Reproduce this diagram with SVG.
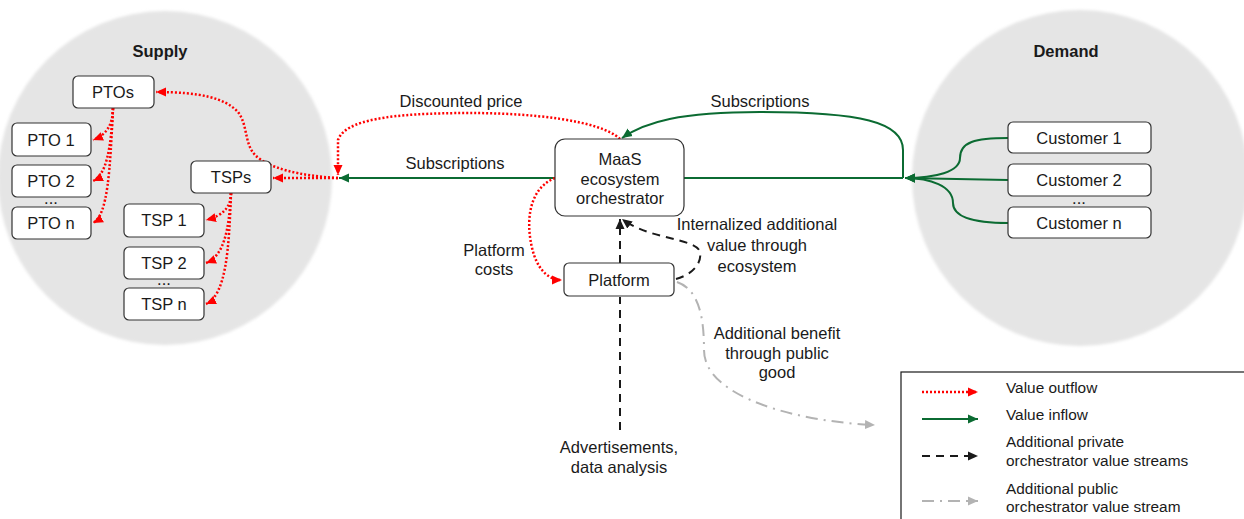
<svg xmlns="http://www.w3.org/2000/svg" width="1244" height="519" viewBox="0 0 1244 519">
<style>
text{font-family:"Liberation Sans",Arial,sans-serif;font-size:16.5px;fill:#1a1a1a;text-anchor:middle}
.t{font-weight:bold}
.lg{font-size:15.4px;text-anchor:start}
.box{fill:#fff;stroke:#333;stroke-width:1.2}
.red{fill:none;stroke:#ff0000;stroke-width:2.5;stroke-dasharray:2 2}
.grn{fill:none;stroke:#0b6b32;stroke-width:2}
.blk{fill:none;stroke:#1a1a1a;stroke-width:2;stroke-dasharray:8 6}
.gry{fill:none;stroke:#b3b3b3;stroke-width:2;stroke-dasharray:12 6 2 6}
.area{fill:#e5e5e5;filter:url(#soft)}
</style>
<defs>
<filter id="soft" x="-10%" y="-10%" width="120%" height="120%"><feGaussianBlur stdDeviation="1.5"/></filter>
<marker id="ar" markerUnits="userSpaceOnUse" markerWidth="12" markerHeight="12" viewBox="0 0 12 12" refX="10" refY="6" orient="auto"><path d="M0,1.5 L10,6 L0,10.5 Z" fill="#ff0000"/></marker>
<marker id="ag" markerUnits="userSpaceOnUse" markerWidth="12" markerHeight="12" viewBox="0 0 12 12" refX="10" refY="6" orient="auto"><path d="M0,1.5 L10,6 L0,10.5 Z" fill="#0b6b32"/></marker>
<marker id="ak" markerUnits="userSpaceOnUse" markerWidth="12" markerHeight="12" viewBox="0 0 12 12" refX="10" refY="6" orient="auto"><path d="M0,1.5 L10,6 L0,10.5 Z" fill="#1a1a1a"/></marker>
<marker id="ay" markerUnits="userSpaceOnUse" markerWidth="12" markerHeight="12" viewBox="0 0 12 12" refX="10" refY="6" orient="auto"><path d="M0,1.5 L10,6 L0,10.5 Z" fill="#b3b3b3"/></marker>
</defs>
<rect width="1244" height="519" fill="#fff"/>
<g id="supply-area">
<circle class="area" cx="165" cy="178" r="167"/>
<text class="t" x="160" y="57">Supply</text>
</g>
<g id="demand-area">
<circle class="area" cx="1080" cy="178" r="168"/>
<text class="t" x="1066" y="57">Demand</text>
</g>
<g id="connectors">
<path class="grn" d="M555,178 L339,178" marker-end="url(#ag)"/>
<path class="grn" d="M684,178 L903,178"/>
<path class="grn" d="M903,178 L903,150 C903,122 860,112 760,112 C680,112 645,122 622,138" marker-end="url(#ag)"/>
<path class="grn" d="M1008,138 C975,138 960,142 960,158 C960,172 935,178 905,178" marker-end="url(#ag)"/>
<path class="grn" d="M1008,180 L905,178" marker-end="url(#ag)"/>
<path class="grn" d="M1008,223 C975,223 953,218 953,203 C953,186 930,178 905,178" marker-end="url(#ag)"/>
<path class="red" d="M620,139 C600,120 530,113 470,113 C390,113 345,120 338,140 L338,175" marker-end="url(#ar)"/>
<path class="red" d="M338,178 L273,178" marker-end="url(#ar)"/>
<path class="red" d="M338,178 C300,176 268,168 255,155 C244,143 248,125 238,112 C225,98 200,92 156,92" marker-end="url(#ar)"/>
<path class="red" d="M555,178 C525,190 526,230 534,255 C540,272 550,280 562,280" marker-end="url(#ar)"/>
<path class="red" d="M113,108 C113,125 106,135 93,140" marker-end="url(#ar)"/>
<path class="red" d="M113,108 C111,150 106,175 93,181" marker-end="url(#ar)"/>
<path class="red" d="M113,108 C110,170 108,215 93,223" marker-end="url(#ar)"/>
<path class="red" d="M231,193 C231,208 222,216 206,220" marker-end="url(#ar)"/>
<path class="red" d="M231,193 C229,230 224,256 206,263" marker-end="url(#ar)"/>
<path class="red" d="M231,193 C229,250 226,295 206,304" marker-end="url(#ar)"/>
<path class="blk" d="M620,430 L620,297"/>
<path class="blk" d="M620,263 L620,219" marker-end="url(#ak)"/>
<path class="blk" d="M676,279 C694,274 702,262 700,252 C696,238 650,240 622,219" marker-end="url(#ak)"/>
<path class="gry" d="M677,282 C700,290 704,320 704,350 C704,398 800,422 875,425" marker-end="url(#ay)"/>
</g>
<g id="ptos"><rect class="box" x="73" y="76" width="81" height="32" rx="5"/><text x="113" y="98">PTOs</text></g>
<g id="pto1"><rect class="box" x="12" y="123" width="79" height="33" rx="5"/><text x="51" y="146">PTO 1</text></g>
<g id="pto2"><rect class="box" x="12" y="165" width="79" height="32" rx="5"/><text x="51" y="187">PTO 2</text></g>
<text x="51" y="204">...</text>
<g id="pton"><rect class="box" x="12" y="207" width="79" height="32" rx="5"/><text x="51" y="229">PTO n</text></g>
<g id="tsps"><rect class="box" x="191" y="161" width="80" height="32" rx="5"/><text x="231" y="183">TSPs</text></g>
<g id="tsp1"><rect class="box" x="124" y="204" width="80" height="33" rx="5"/><text x="164" y="226">TSP 1</text></g>
<g id="tsp2"><rect class="box" x="124" y="247" width="80" height="32" rx="5"/><text x="164" y="269">TSP 2</text></g>
<text x="164" y="285">...</text>
<g id="tspn"><rect class="box" x="124" y="288" width="80" height="32" rx="5"/><text x="164" y="310">TSP n</text></g>
<g id="maas"><rect class="box" x="555" y="139" width="129" height="77" rx="10"/><text x="620" y="165">MaaS</text><text x="620" y="185">ecosystem</text><text x="620" y="204">orchestrator</text></g>
<g id="platform"><rect class="box" x="564" y="263" width="110" height="33" rx="5"/><text x="619" y="286">Platform</text></g>
<g id="customer1"><rect class="box" x="1008" y="122" width="143" height="31" rx="5"/><text x="1079" y="144">Customer 1</text></g>
<g id="customer2"><rect class="box" x="1008" y="164" width="143" height="32" rx="5"/><text x="1079" y="186">Customer 2</text></g>
<text x="1079" y="204">...</text>
<g id="customern"><rect class="box" x="1008" y="207" width="143" height="31" rx="5"/><text x="1079" y="229">Customer n</text></g>
<g id="labels">
<text x="461" y="107">Discounted price</text>
<text x="760" y="107">Subscriptions</text>
<text x="455" y="169">Subscriptions</text>
<text x="494" y="256">Platform</text><text x="494" y="275">costs</text>
<text x="757" y="230">Internalized additional</text><text x="757" y="251">value through</text><text x="757" y="272">ecosystem</text>
<text x="777" y="339">Additional benefit</text><text x="777" y="359">through public</text><text x="777" y="378">good</text>
<text x="619" y="453">Advertisements,</text><text x="619" y="473">data analysis</text>
</g>
<g id="legend">
<rect x="901" y="372" width="360" height="160" fill="#fff" stroke="#1a1a1a" stroke-width="1.2"/>
<path class="red" d="M922,392 L978,392" marker-end="url(#ar)"/>
<path class="grn" d="M922,419 L978,419" marker-end="url(#ag)"/>
<path class="blk" d="M922,456 L978,456" marker-end="url(#ak)"/>
<path class="gry" d="M922,501 L978,501" marker-end="url(#ay)"/>
<text class="lg" x="1006" y="393">Value outflow</text>
<text class="lg" x="1006" y="420">Value inflow</text>
<text class="lg" x="1006" y="447">Additional private</text>
<text class="lg" x="1006" y="466">orchestrator value streams</text>
<text class="lg" x="1006" y="494">Additional public</text>
<text class="lg" x="1006" y="512">orchestrator value stream</text>
</g>
</svg>
